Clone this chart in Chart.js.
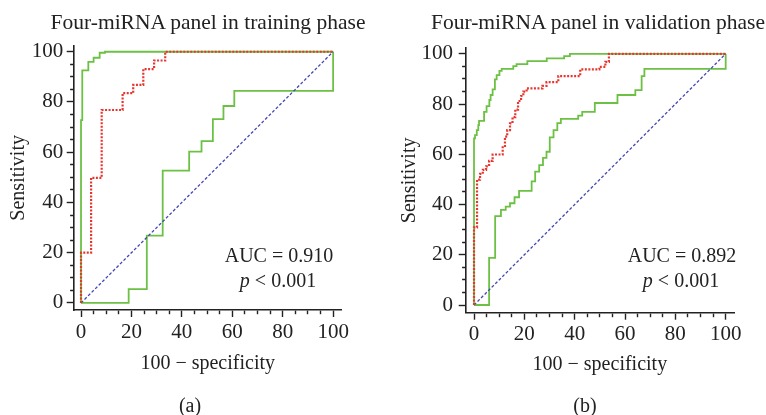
<!DOCTYPE html>
<html>
<head>
<meta charset="utf-8">
<script src="https://cdn.jsdelivr.net/npm/chart.js@4/dist/chart.umd.min.js"></script>
<style>
  html, body { margin: 0; padding: 0; background: #fff; }
  #wrap { position: relative; width: 766px; height: 415px; overflow: hidden; }
  canvas { position: absolute; top: 0; }
  .txt { position: absolute; font-family: 'Liberation Serif', 'DejaVu Serif', serif; font-size: 20px;
         line-height: 24px; color: #222; text-align: center; width: 200px; white-space: nowrap; }
  .ttl { position: absolute; font-family: 'Liberation Serif', 'DejaVu Serif', serif; font-size: 21.5px;
         line-height: 24px; color: #222; text-align: center; width: 400px; white-space: nowrap; top: 9.5px; }
</style>
</head>
<body>
<div id="wrap">
  <canvas id="cA" width="383" height="415" style="left:0"></canvas>
  <canvas id="cB" width="383" height="415" style="left:383px"></canvas>
  <div class="ttl" style="left:8px;">Four-miRNA panel in training phase</div>
  <div class="ttl" style="left:398px;">Four-miRNA panel in validation phase</div>
  <div class="txt" style="left:179px; top:243px;">AUC = 0.910</div>
  <div class="txt" style="left:178px; top:268px;"><i>p</i> &lt; 0.001</div>
  <div class="txt" style="left:582px; top:243px;">AUC = 0.892</div>
  <div class="txt" style="left:581px; top:268px;"><i>p</i> &lt; 0.001</div>
  <div class="txt" style="left:90px; top:393px;">(a)</div>
  <div class="txt" style="left:485px; top:393px;">(b)</div>
</div>
<script>
// ---- tick values ----
const axisTicks = [0, 5, 10, 15, 20, 25, 30, 35, 40, 45, 50, 55, 60, 65, 70, 75, 80, 85, 90, 95, 100];
const majorTicks = [0, 20, 40, 60, 80, 100];

// ---- training phase (a): ROC points (100-specificity, sensitivity) ----
const trainPanelX = [0, 0, 4.0, 8.2, 16.5, 20.7, 24.7, 29.0, 33.4, 100];
const trainPanelY = [0, 20.0, 49.8, 76.8, 83.5, 86.8, 93.1, 96.5, 100, 100];
const trainUpperX = [0, 0, 0.5, 2.9, 5.0, 7.4, 9.5, 100];
const trainUpperY = [0, 72.8, 92.6, 96.0, 97.6, 99.6, 100, 100];
const trainLowerX = [0, 18.9, 26.1, 32.4, 42.9, 47.8, 52.3, 56.5, 60.8, 100];
const trainLowerY = [0, 5.5, 26.8, 52.7, 60.2, 64.4, 73.2, 78.4, 84.4, 100];

// ---- validation phase (b) ----
const validPanelX = [0, 0, 1.2, 2.4, 3.5, 4.8, 6.0, 7.4, 11.4, 12.3, 13.2, 14.3, 15.3, 16.4, 17.5, 18.7, 19.6, 20.9, 27.2, 28.8, 33.5, 42.2, 49.8, 52.2, 53.6, 100];
const validPanelY = [0, 30.9, 49.9, 52.2, 53.8, 55.2, 57.4, 59.9, 63.3, 67.0, 69.6, 72.3, 74.8, 77.8, 81.2, 83.2, 84.9, 86.2, 87.2, 88.7, 91.1, 93.8, 94.8, 96.8, 100, 100];
const validUpperX = [0, 0, 0.4, 1.1, 1.7, 2.0, 4.0, 5.0, 6.1, 6.6, 7.4, 8.3, 9.0, 10.1, 11.0, 15.6, 16.9, 21.2, 28.9, 35.8, 38.1, 100];
const validUpperY = [0, 66.3, 67.6, 69.6, 71.6, 73.3, 76.9, 79.2, 81.6, 83.6, 85.8, 89.8, 91.5, 93.2, 94.0, 95.1, 95.9, 97.1, 98.2, 99.1, 100, 100];
const validLowerX = [0, 6.0, 8.4, 10.7, 12.6, 14.3, 16.1, 17.9, 22.9, 24.3, 25.9, 27.4, 28.8, 30.1, 31.6, 33.1, 34.5, 41.4, 43.0, 48.0, 57.0, 64.1, 66.6, 67.7, 100];
const validLowerY = [0, 18.8, 35.4, 37.9, 39.2, 40.5, 42.9, 45.4, 49.2, 53.1, 55.7, 58.6, 61.0, 66.7, 69.6, 72.4, 74.1, 75.4, 76.9, 80.4, 83.6, 85.5, 91.1, 94.0, 100];

const refX = [0, 100];
const refY = [0, 100];

const FONT = "'Liberation Serif', 'DejaVu Serif', serif";
const INK = '#222222';
const GREEN = '#6cc144';
const RED = '#e8352e';
const BLUE = '#4646b4';

function pts(xs, ys) { return xs.map((x, i) => ({ x: x, y: ys[i] })); }

function buildChart(id, panelX, panelY, upX, upY, loX, loY, geo) {
  const ctx = document.getElementById(id).getContext('2d');
  const common = {
    type: 'linear',
    afterBuildTicks: (s) => { s.ticks = axisTicks.map(v => ({ value: v })); },
    grid: {
      display: true, drawOnChartArea: false, drawTicks: true,
      tickLength: 7, tickWidth: 1.4, tickColor: INK
    },
    border: { display: true, color: INK, width: 1.6 },
  };
  return new Chart(ctx, {
    type: 'scatter',
    data: {
      datasets: [
        { data: pts(panelX, panelY), showLine: true, stepped: 'before', borderColor: RED, borderWidth: 2.2,
          borderDash: [2, 1.5], pointRadius: 0, fill: false },
        { data: pts(refX, refY), showLine: true, borderColor: BLUE, borderWidth: 1.3,
          borderDash: [3, 2], pointRadius: 0, fill: false },
        { data: pts(upX, upY), showLine: true, stepped: 'before', borderColor: GREEN, borderWidth: 1.8,
          pointRadius: 0, fill: false },
        { data: pts(loX, loY), showLine: true, stepped: 'before', borderColor: GREEN, borderWidth: 1.8,
          pointRadius: 0, fill: false },
      ]
    },
    options: {
      responsive: false,
      animation: false,
      devicePixelRatio: 1,
      layout: { padding: { left: 0, right: geo.padRight, top: geo.padTop, bottom: 20 } },
      plugins: {
        legend: { display: false },
        tooltip: { enabled: false },
        title: { display: false }
      },
      scales: {
        x: Object.assign({}, common, {
          min: geo.xmin, max: geo.xmax,
          afterFit: (s) => { s.height = geo.xHeight; },
          grid: Object.assign({}, common.grid, {
            tickBorderDash: (c) => (c.tick && c.tick.value % 20 !== 0) ? [3.6, 100] : []
          }),
          ticks: {
            autoSkip: false, maxRotation: 0, color: INK, padding: geo.xTickPad,
            font: { family: FONT, size: 21 },
            callback: (v) => majorTicks.includes(v) ? String(v) : ''
          },
          title: {
            display: true, text: '100 \u2212 specificity', color: INK,
            font: { family: FONT, size: 20 }, padding: { top: 0, bottom: geo.xTitlePad }
          }
        }),
        y: Object.assign({}, common, {
          min: geo.ymin, max: geo.ymax,
          afterFit: (s) => { s.width = geo.yWidth; },
          grid: Object.assign({}, common.grid, {
            tickBorderDash: (c) => (c.tick && c.tick.value % 20 !== 0) ? [0, 3.4, 10, 100] : []
          }),
          ticks: {
            autoSkip: false, color: INK, padding: geo.yTickPad,
            font: { family: FONT, size: 21 },
            callback: (v) => majorTicks.includes(v) ? String(v) : ''
          },
          title: {
            display: true, text: 'Sensitivity', color: INK,
            font: { family: FONT, size: 20 }, padding: { top: geo.yTitlePad, bottom: 0 }
          }
        })
      }
    }
  });
}

buildChart('cA',
  trainPanelX, trainPanelY, trainUpperX, trainUpperY, trainLowerX, trainLowerY,
  { xmin: -2.9, xmax: 103.4, ymin: -2.8, ymax: 102.4, padRight: 41.3, padTop: 45.7,
    xHeight: 85, yWidth: 73.7,
    xTickPad: 2.5, yTickPad: 3.4, xTitlePad: 19.7, yTitlePad: 6.3 });

buildChart('cB',
  validPanelX, validPanelY, validUpperX, validUpperY, validLowerX, validLowerY,
  { xmin: -3.3, xmax: 103.3, ymin: -3.06, ymax: 102.3, padRight: 32, padTop: 48,
    xHeight: 82.3, yWidth: 82.7,
    xTickPad: 2.5, yTickPad: 5.7, xTitlePad: 18, yTitlePad: 14.7 });
</script>
</body>
</html>
